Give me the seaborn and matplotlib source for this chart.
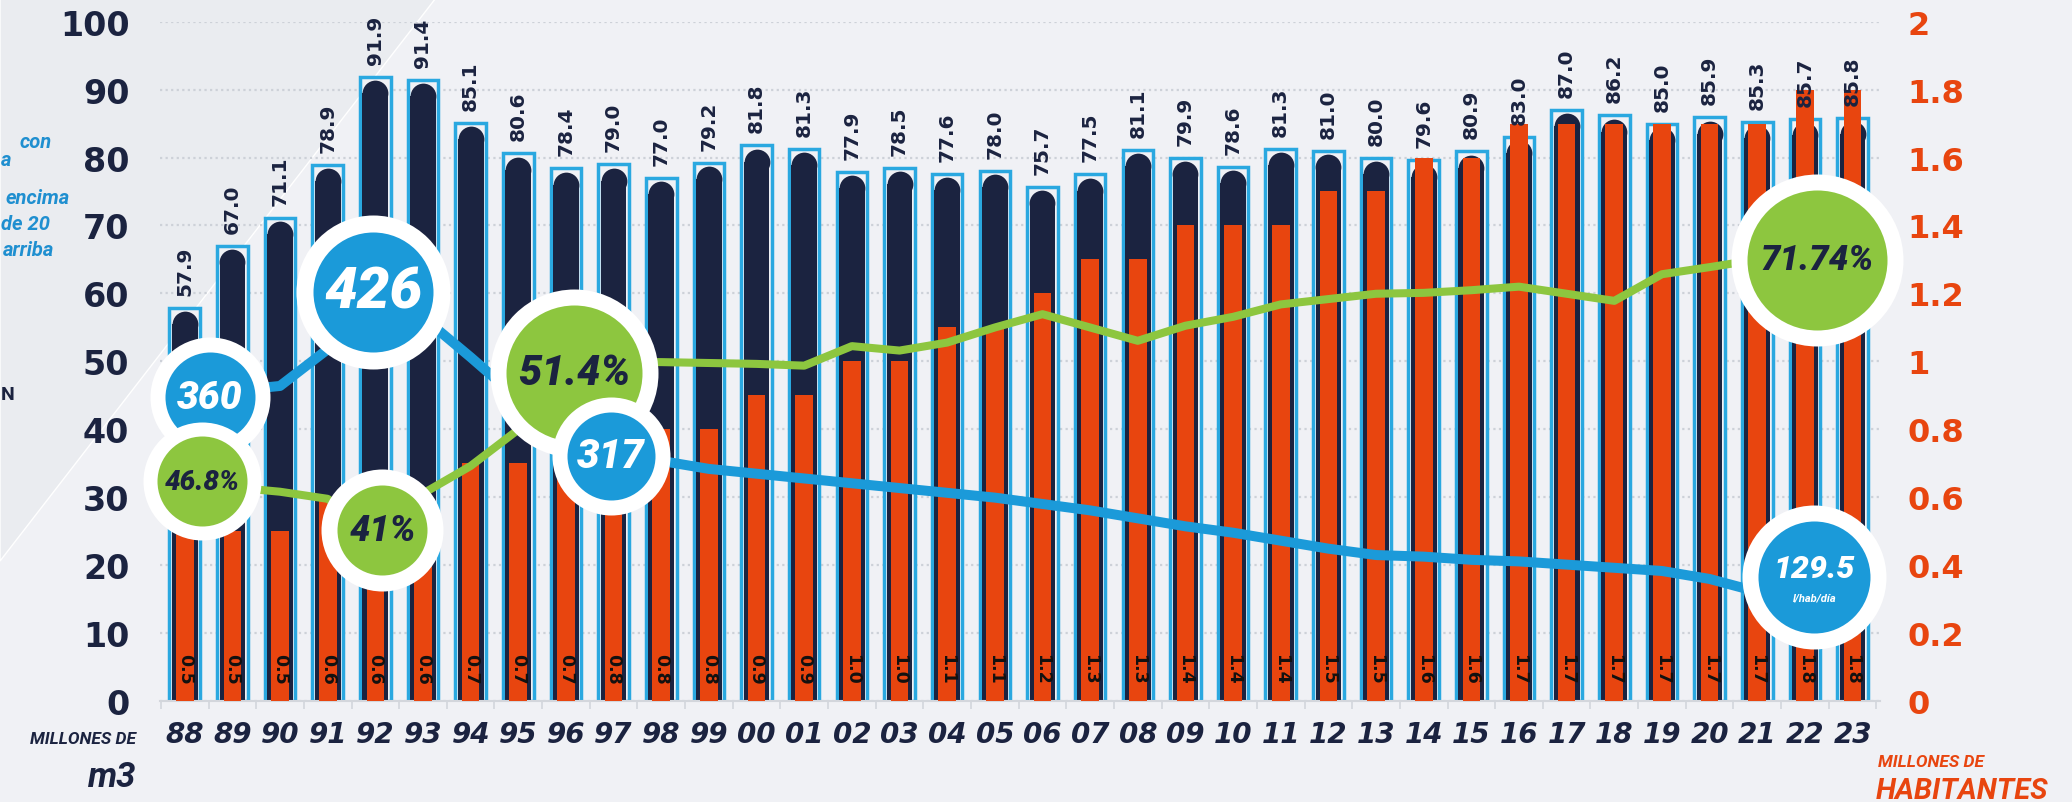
import numpy as np
import pandas as pd
import seaborn as sns
import matplotlib.pyplot as plt
from matplotlib.patches import Polygon
from matplotlib.transforms import offset_copy

years = ['88', '89', '90', '91', '92', '93', '94', '95', '96', '97', '98', '99',
         '00', '01', '02', '03', '04', '05', '06', '07', '08', '09', '10', '11',
         '12', '13', '14', '15', '16', '17', '18', '19', '20', '21', '22', '23']
volumen = [57.9, 67.0, 71.1, 78.9, 91.9, 91.4, 85.1, 80.6, 78.4, 79.0, 77.0, 79.2,
           81.8, 81.3, 77.9, 78.5, 77.6, 78.0, 75.7, 77.5, 81.1, 79.9, 78.6, 81.3,
           81.0, 80.0, 79.6, 80.9, 83.0, 87.0, 86.2, 85.0, 85.9, 85.3, 85.7, 85.8]
habitantes = [0.5, 0.5, 0.5, 0.6, 0.6, 0.6, 0.7, 0.7, 0.7, 0.8, 0.8, 0.8,
              0.9, 0.9, 1.0, 1.0, 1.1, 1.1, 1.2, 1.3, 1.3, 1.4, 1.4, 1.4,
              1.5, 1.5, 1.6, 1.6, 1.7, 1.7, 1.7, 1.7, 1.7, 1.7, 1.8, 1.8]
# green line (%), 88 -> 21
cobertura = [46.8, 46.1, 45.6, 44.8, 41.0, 45.4, 48.5, 52.6, 57.2, 60.2, 60.2, 60.1,
             60.0, 59.8, 62.0, 61.5, 62.4, 64.1, 65.6, 64.1, 62.6, 64.3, 65.3, 66.7,
             67.3, 67.9, 68.0, 68.3, 68.7, 67.9, 67.1, 70.1, 70.9, 71.74]
# blue line (l/hab/dia), 88 -> 21
consumo = [360, 364, 367, 390, 426, 410, 385, 359, 338, 323, 320, 315,
           312, 309, 306, 303, 300, 297, 293, 289, 284, 279, 275, 270,
           265, 261, 260, 258, 257, 255, 253, 251, 246, 238]
left_ticks = [0, 10, 20, 30, 40, 50, 60, 70, 80, 90, 100]
right_ticks = [0, 0.2, 0.4, 0.6, 0.8, 1, 1.2, 1.4, 1.6, 1.8, 2]
right_labels = ['0', '0.2', '0.4', '0.6', '0.8', '1', '1.2', '1.4', '1.6', '1.8', '2']

NAVY = '#1b2340'
ORANGE = '#e8450f'
LBLUE = '#2aa8e0'
BLUE = '#1b9ad9'
GREEN = '#8dc63f'
BG = '#f0f1f5'

sns.set_theme(style='white')
plt.rcParams['font.family'] = ['DejaVu Sans']

W, H = 2072, 803
fig = plt.figure(figsize=(W / 100, H / 100), dpi=100, facecolor=BG)

# soft background shape (upper left)
fig.add_artist(Polygon([(0, 1), (0.21, 1), (0, 0.3)], closed=True,
                       transform=fig.transFigure, facecolor='#eaecf0', zorder=-2))

ax = fig.add_axes([0.0772, 0.1258, 0.830, 0.846])
ax.set_facecolor('none')

df = pd.DataFrame({'year': years, 'volumen': volumen, 'habitantes': habitantes})
cap = 1.9  # radius of the rounded top, in m3 units
df['inner'] = df['volumen'] - 0.5 - cap

# m3 bars: light blue outlined box with a rounded navy bar inside
sns.barplot(data=df, x='year', y='volumen', ax=ax, color=BG, saturation=1,
            edgecolor=LBLUE, linewidth=2.5, width=0.64, errorbar=None)
sns.barplot(data=df, x='year', y='inner', ax=ax, color=NAVY, saturation=1,
            linewidth=0, width=0.54, errorbar=None)
ax.scatter(np.arange(len(years)), df['inner'], s=(0.54 * 47.65 * 0.72) ** 2,
           color=NAVY, linewidths=0, zorder=3)
ax.set_ylim(0, 100)
ax.set_axisbelow(True)
ax.yaxis.grid(True, linestyle=(0, (1, 1.5)), color='#cdd1d8', linewidth=1.6)

# habitantes bars
ax2 = ax.twinx()
sns.barplot(data=df, x='year', y='habitantes', ax=ax2, color=ORANGE, saturation=1,
            linewidth=0, width=0.37, errorbar=None)

# lines
ax3 = ax.twinx()
sns.lineplot(x=np.arange(len(cobertura)), y=cobertura, ax=ax3, color=GREEN,
             linewidth=5.8, solid_joinstyle='round', solid_capstyle='round')
ax4 = ax.twinx()
sns.lineplot(x=np.arange(len(consumo)), y=consumo, ax=ax4, color=BLUE,
             linewidth=7.2, solid_joinstyle='round', solid_capstyle='round')

# value labels (drawn on the top axes so they sit above the orange bars)
for i, (v, h) in enumerate(zip(volumen, habitantes)):
    tr = offset_copy(ax.transData, fig=fig, x=0, y=13, units='dots')
    ax4.text(i, v, f'{v:.1f}', transform=tr, rotation=90, ha='center', va='bottom',
             fontsize=14.5, fontweight='bold', color=NAVY, zorder=5)
    ax4.text(i, 4.8, f'{h:.1f}', transform=ax.transData, rotation=270, ha='center',
             va='center', fontsize=12.5, fontweight='bold', color='#111111', zorder=5)


def badge(axis, i, val, text, color, r, ring, txt_color, size, dx=0, dy=0, z=10, sub=None):
    tr = offset_copy(axis.transData, fig=fig, x=dx, y=dy, units='dots')
    ax4.scatter([i], [val], s=(1.44 * ring) ** 2, color='white', linewidths=0,
                transform=tr, zorder=z, clip_on=False)
    ax4.scatter([i], [val], s=(1.44 * r) ** 2, color=color, linewidths=0,
                transform=tr, zorder=z + 0.1, clip_on=False)
    if sub is None:
        ax4.text(i, val, text, transform=tr, ha='center', va='center', fontsize=size,
                 fontweight='black', fontstyle='italic', family='Roboto',
                 color=txt_color, zorder=z + 0.2, clip_on=False)
    else:
        tr_a = offset_copy(axis.transData, fig=fig, x=dx, y=dy + 9, units='dots')
        tr_b = offset_copy(axis.transData, fig=fig, x=dx, y=dy - 21, units='dots')
        ax4.text(i, val, text, transform=tr_a, ha='center', va='center', fontsize=size,
                 fontweight='black', fontstyle='italic', family='Roboto',
                 color=txt_color, zorder=z + 0.2, clip_on=False)
        ax4.text(i, val, sub, transform=tr_b, ha='center', va='center', fontsize=8,
                 fontweight='bold', fontstyle='italic', family='Roboto',
                 color=txt_color, zorder=z + 0.2, clip_on=False)


badge(ax4, 0, consumo[0], '360', BLUE, 45, 60, 'white', 28, dx=25, z=10)
badge(ax4, 4, consumo[4], '426', BLUE, 60, 77, 'white', 42, dx=-2, z=11)
badge(ax3, 0, cobertura[0], '46.8%', GREEN, 45, 59, NAVY, 20, dx=17, z=12)
badge(ax3, 4, cobertura[4], '41%', GREEN, 45, 61, NAVY, 26, dx=7, dy=3, z=13)
badge(ax3, 8, cobertura[8], '51.4%', GREEN, 68, 84, NAVY, 30, dx=8, dy=16, z=14)
badge(ax4, 9, consumo[9], '317', BLUE, 44, 59, 'white', 29, dx=-3, z=15)
badge(ax3, 33, cobertura[33], '71.74%', GREEN, 70, 86, NAVY, 25, dx=60, z=16)
badge(ax4, 33, consumo[33], '129.5', BLUE, 56, 72, 'white', 23, dx=57, dy=15, z=17,
      sub='l/hab/día')

# axes styling
ax.set_xlim(-0.52, 35.57)
ax.set_ylim(0, 100)
ax3.set_ylim(22.03, 98.55)
ax4.set_ylim(169.5, 595.4)
ax2.set_ylim(0, 2)

ax.set_xticks(range(len(years)), labels=years)
ax.set_xticks(np.arange(-0.5, len(years)), minor=True)
ax.tick_params(axis='x', which='major', length=0, pad=14)
ax.tick_params(axis='x', which='minor', length=6, color='#d3d6dc', width=1.2,
               direction='out', bottom=True)
for lab in ax.get_xticklabels():
    lab.set_fontsize(20)
    lab.set_fontweight('bold')
    lab.set_fontstyle('italic')
    lab.set_color(NAVY)

ax.set_yticks(left_ticks)
ax.set_yticklabels([str(t) for t in left_ticks], fontsize=24, fontweight='bold', color=NAVY)
ax.tick_params(axis='y', length=0, pad=22)

ax2.set_yticks(right_ticks)
ax2.set_yticklabels(right_labels, fontsize=23, fontweight='bold', color=ORANGE)
ax2.tick_params(axis='y', length=0, pad=20)

for a in (ax3, ax4):
    a.set_yticks([])
for a in (ax, ax2, ax3, ax4):
    a.set_xlabel('')
    a.set_ylabel('')
    for s in a.spines.values():
        s.set_visible(False)
ax.spines['bottom'].set_visible(True)
ax.spines['bottom'].set_color('#d3d6dc')
ax.spines['bottom'].set_linewidth(1.5)


# side captions
def ftext(x, y, s, **kw):
    fig.text(x / W, 1 - y / H, s, **kw)


ftext(136, 740, 'MILLONES DE', ha='right', va='center', fontsize=12.5,
      fontweight='bold', fontstyle='italic', family='Roboto', color=NAVY)
ftext(136, 787, 'm3', ha='right', va='baseline', fontsize=25,
      fontweight='bold', fontstyle='italic', family='Roboto', color=NAVY)
ftext(1878, 763, 'MILLONES DE', ha='left', va='center', fontsize=12.5,
      fontweight='bold', fontstyle='italic', family='Roboto', color=ORANGE)
ftext(1876, 799, 'HABITANTES', ha='left', va='baseline', fontsize=21,
      fontweight='bold', fontstyle='italic', family='Roboto', color=ORANGE)

for x, y, s in [(20, 142, 'con'), (1, 160, 'a'), (6, 199, 'encima'),
                (1, 225, 'de 20'), (3, 251, 'arriba')]:
    ftext(x, y, s, ha='left', va='center', fontsize=14.5, fontweight='bold',
          fontstyle='italic', family='Roboto', color='#1f8fd0')
ftext(1, 395, 'N', ha='left', va='center', fontsize=14, fontweight='bold',
      family='Roboto', color=NAVY)

fig.savefig('out.png', dpi=100, facecolor=BG)
